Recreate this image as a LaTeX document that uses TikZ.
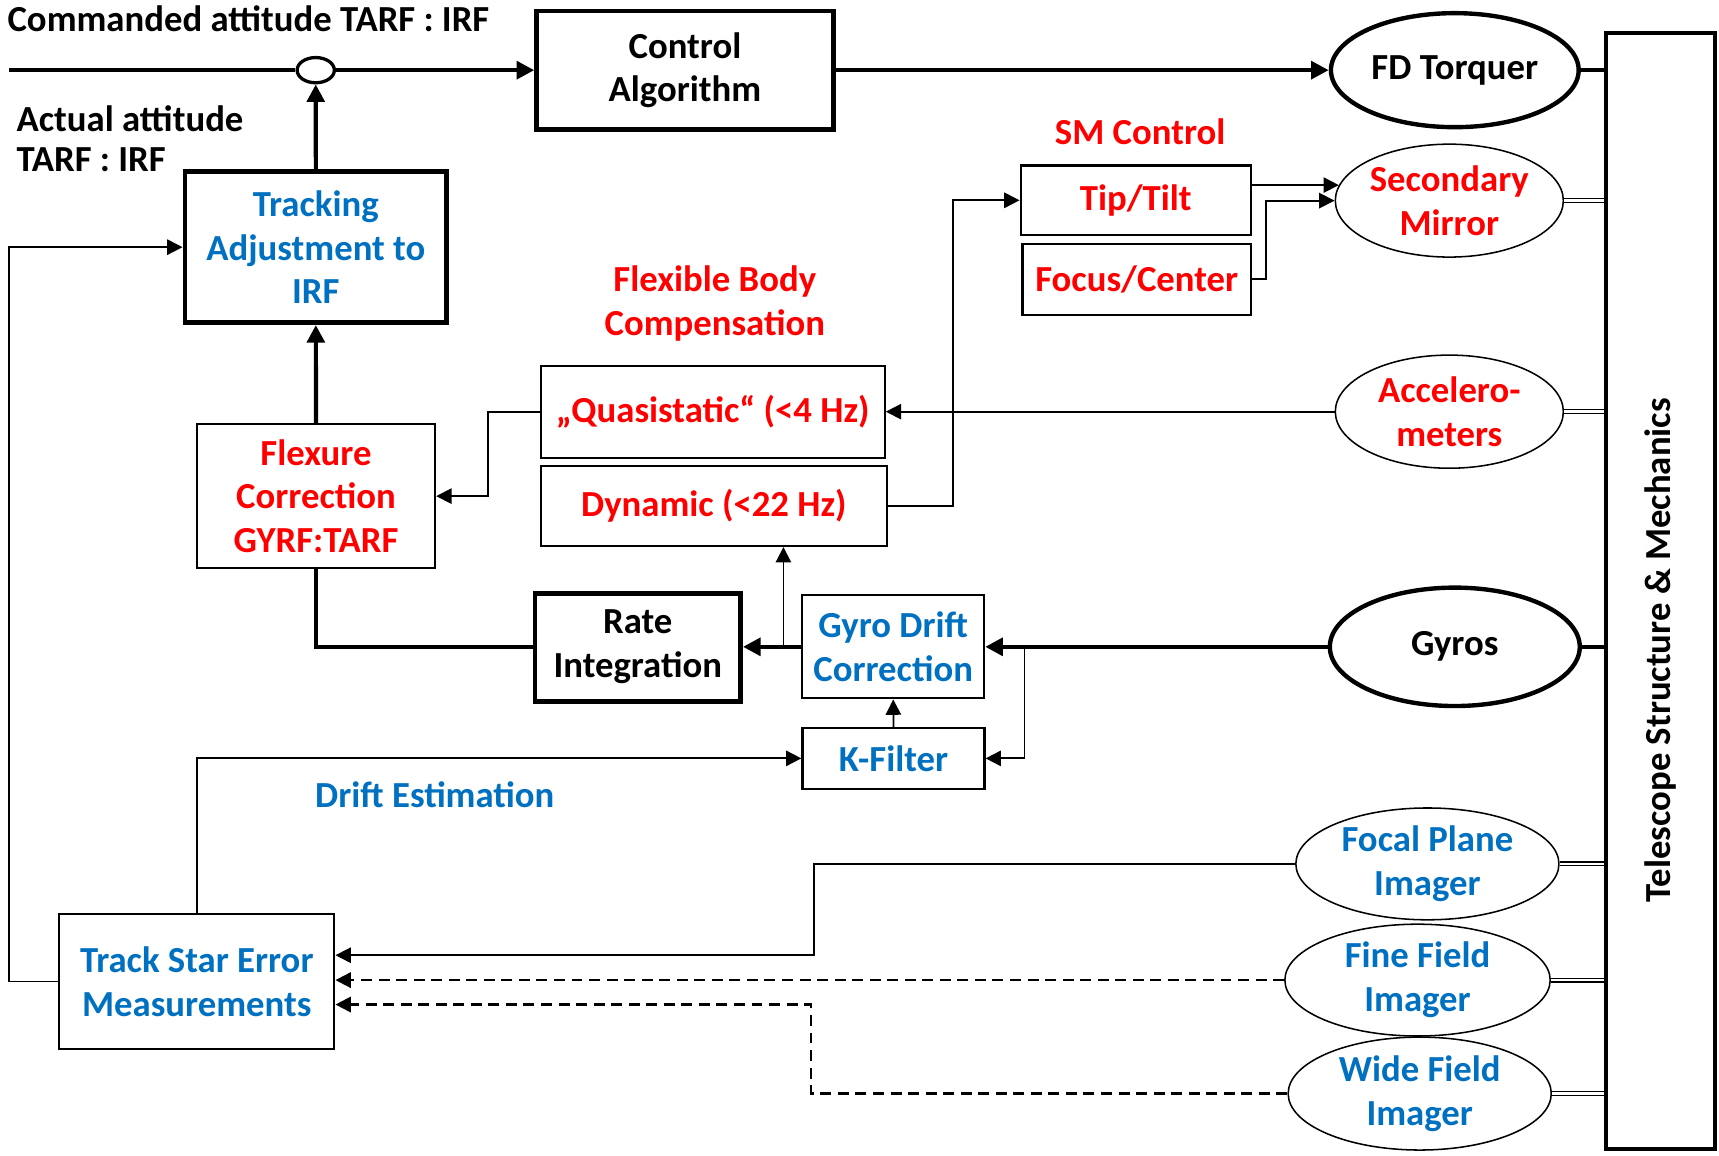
\documentclass[tikz,border=0pt]{standalone}
\usepackage{fontspec}
\setmainfont{Carlito}
\usetikzlibrary{arrows.meta,shapes.geometric,calc}
\definecolor{myred}{RGB}{255,0,0}
\definecolor{myblue}{RGB}{0,112,192}
\begin{document}
\begin{tikzpicture}[x=0.5pt,y=-0.5pt,
  font=\fontsize{16.75}{20}\selectfont\bfseries,
  thickbox/.style={draw, rectangle, line width=2.2pt, inner sep=0pt, align=center},
  thinbox/.style={draw, rectangle, line width=1pt, inner sep=0pt, align=center},
  thinell/.style={draw, ellipse, line width=0.7pt, inner sep=0pt},
  thickell/.style={draw, ellipse, line width=2pt, inner sep=0pt},
  rtxt/.style={text=myred, align=center},
  btxt/.style={text=myblue, align=center},
  ktxt/.style={text=black, align=center},
  thk/.style={line width=1.9pt},
  thn/.style={line width=0.8pt},
  thkarr/.style={thk, -{Triangle[length=8pt,width=8pt]}},
  thnarr/.style={thn, -{Triangle[length=7pt,width=7pt]}},
  dsharr/.style={line width=1pt, dash pattern=on 5pt off 3pt, -{Triangle[length=7pt,width=7pt]}},
  dbl/.style={line width=0.5pt, double, double distance=1.2pt}
]
\useasboundingbox (0,0) rectangle (1568,1054);

% ---------- labels ----------
\node[ktxt, anchor=base west, inner sep=0pt] (cmdlbl) at (6.5,29) {Commanded attitude TARF : IRF};
\node[ktxt, anchor=base west, inner sep=0pt] (actlbl1) at (14.7,120) {Actual attitude};
\node[ktxt, anchor=base west, inner sep=0pt] (actlbl2) at (14.7,156) {TARF : IRF};
\node[rtxt, anchor=base, inner sep=0pt] (smlbl) at (1040,132) {SM Control};
\node[rtxt, inner sep=0pt] (fblbl) at (652,276.5) {Flexible Body\\Compensation};
\node[btxt, inner sep=0pt] (delbl) at (396.6,725) {Drift Estimation};

% ---------- boxes ----------
\node[thickbox, minimum width=135.25pt, minimum height=54pt] (ctrl) at (624.75,64) {Control\\Algorithm};
\node[thickbox, btxt, minimum width=119.4pt, minimum height=68.85pt] (track) at (288.1,225.45) {Tracking\\Adjustment to\\IRF};
\node[thinbox, rtxt, minimum width=108.65pt, minimum height=65.75pt] (flex) at (288.25,452.55) {Flexure\\Correction\\GYRF:TARF};
\node[thinbox, rtxt, minimum width=156.85pt, minimum height=42.2pt] (qs) at (650.15,375.7) {„Quasistatic“ (<4 Hz)};
\node[thinbox, rtxt, minimum width=157.85pt, minimum height=36.6pt] (dyn) at (651.15,461.4) {Dynamic (<22 Hz)};
\node[thinbox, rtxt, minimum width=105pt, minimum height=31.7pt] (tip) at (1036,182.7) {Tip/Tilt};
\node[thinbox, rtxt, minimum width=104.15pt, minimum height=32.2pt] (fc) at (1036.85,254.8) {Focus/Center};
\node[thickbox, minimum width=93.75pt, minimum height=49.25pt] (rate) at (581.75,590.25) {Rate\\Integration};
\node[thinbox, btxt, minimum width=82.95pt, minimum height=47pt] (gdc) at (814.75,590) {Gyro Drift\\Correction};
\node[thinbox, btxt, minimum width=83pt, minimum height=27.75pt] (kf) at (815,691.75) {K-Filter};
\node[thinbox, btxt, minimum width=125.5pt, minimum height=61.3pt] (tse) at (179.5,895.3) {Track Star Error\\Measurements};
\node[draw, rectangle, line width=1.8pt, inner sep=0pt, minimum width=49.5pt, minimum height=508.8pt] (ts) at (1514.5,539.2) {};
\node[ktxt, rotate=90] (tstext) at (1514.5,593) {Telescope Structure \& Mechanics};

% ---------- ellipses ----------
\node[draw, ellipse, line width=1.5pt, inner sep=0pt, minimum width=17pt, minimum height=11.5pt] (sum) at (288,64) {};
\node[thickell, minimum width=113pt, minimum height=52pt] (fd) at (1327,64) {};
\node[ktxt] (fdtext) at (fd) {FD Torquer};
\node[thinell, minimum width=104pt, minimum height=51.5pt] (smi) at (1322,183) {};
\node[rtxt] (smitext) at (smi) {Secondary\\Mirror};
\node[thinell, minimum width=104pt, minimum height=51.6pt] (acc) at (1322,375.5) {};
\node[rtxt] (acctext) at (acc) {Accelero-\\meters};
\node[thickell, minimum width=114pt, minimum height=54pt] (gyros) at (1327,590) {};
\node[ktxt] (gyrostext) at (gyros) {Gyros};
\node[thinell, minimum width=120pt, minimum height=51pt] (fpi) at (1302,788) {};
\node[btxt] (fpitext) at (fpi) {Focal Plane\\Imager};
\node[thinell, minimum width=121pt, minimum height=51pt] (ffi) at (1293,894) {};
\node[btxt] (ffitext) at (ffi) {Fine Field\\Imager};
\node[thinell, minimum width=120pt, minimum height=51.5pt] (wfi) at (1295,997.5) {};
\node[btxt] (wfitext) at (wfi) {Wide Field\\Imager};

% ---------- helper coordinates ----------
\coordinate (start) at (8,64);
\coordinate (lft) at (8,0);
\coordinate (br1) at (714.6,590);
\coordinate (br2) at (934.5,590);
\coordinate (fx) at (742.5,0);
\coordinate (wx) at (740,0);
\coordinate (qx) at (445,0);
\coordinate (dx) at (869.5,0);
\coordinate (fcx) at (1155,0);

% ---------- thick main loop ----------
\draw[thk] (start) -- (sum.west);
\draw[thkarr] (sum.east) -- (sum.east -| ctrl.west);
\draw[thkarr] (ctrl.east) -- (ctrl.east -| fd.west);
\draw[thk] (fd.east) -- (fd.east -| ts.west);
\draw[thkarr] (track.north) -- (sum.south);
\draw[thkarr] (flex.north) -- (track.south);
\draw[thk] (flex.south) |- (rate.west);
\draw[thkarr] (gdc.west) -- (gdc.west -| rate.east);
\draw[thkarr] (gyros.west) -- (gyros.west -| gdc.east);
\draw[thk] (gyros.east) -- (gyros.east -| ts.west);

% ---------- thin connectors ----------
\draw[thnarr] (br1) -- (br1 |- dyn.south);
\draw[thnarr] (br2) |- (kf.east);
\draw[thnarr] (kf.north) -- (gdc.south);
\draw[thnarr] (tse.north) |- (kf.west);
\draw[thnarr] (tse.west) -- (tse.west -| lft) |- (track.west);
\draw[thnarr] (fpi.west) -- (fpi.west -| fx) |- ($(tse.east)+(0,-24)$);
\draw[dsharr] (ffi.west) -- (ffi.west -| tse.east);
\draw[dsharr] (wfi.west) -- (wfi.west -| wx) |- ($(tse.east)+(0,21)$);
\draw[thnarr] (acc.west) -- (acc.west -| qs.east);
\draw[thnarr] (qs.west) -- (qs.west -| qx) |- (flex.east);
\draw[thnarr] (dyn.east) -- (dyn.east -| dx) |- (tip.west);
\draw[thnarr] (tip.east |- smi.172) -- (smi.172);
\draw[thnarr] (fc.east) -- (fc.east -| fcx) |- (smi.west);

% ---------- double links to structure ----------
\draw[dbl] (smi.east) -- (smi.east -| ts.west);
\draw[dbl] (acc.east) -- (acc.east -| ts.west);
\draw[dbl] (fpi.east) -- (fpi.east -| ts.west);
\draw[dbl] (ffi.east) -- (ffi.east -| ts.west);
\draw[dbl] (wfi.east) -- (wfi.east -| ts.west);
\end{tikzpicture}
\end{document}
